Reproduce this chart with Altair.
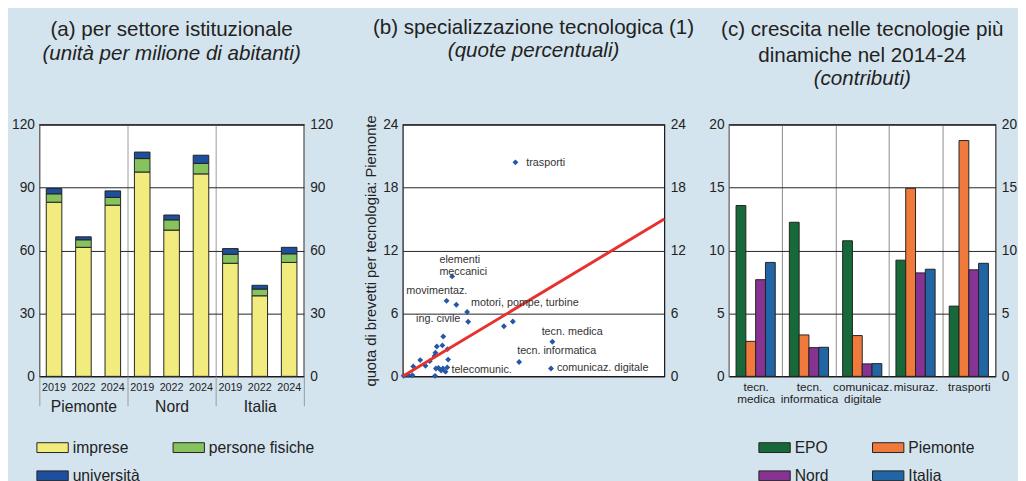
import altair as alt
import pandas as pd

# ---------------- data ----------------
# (a) per settore istituzionale
areas = ["Piemonte", "Nord", "Italia"]
years = ["2019", "2022", "2024"]
sectors = ["imprese", "persone fisiche", "università"]
imprese = [83.0, 61.5, 81.6, 97.4, 69.7, 96.5, 53.9, 38.4, 54.3]
persone_fisiche = [4.0, 3.6, 3.7, 6.4, 4.9, 5.0, 4.3, 3.2, 4.1]
universita = [2.5, 1.4, 3.1, 3.1, 2.3, 3.9, 2.7, 1.8, 3.1]
sector_colors = ["#f2ec7f", "#86c25e", "#1e4f9e"]

# (b) specializzazione tecnologica
tech_epo = [6.46, 2.83, 2.51, 3.07, 3.69, 3.75, 5.80, 6.31, 8.58, 6.67, 8.50,
            2.45, 0.05, 0.30, 0.55, 0.60, 1.30, 1.00, 1.55, 1.85, 1.82, 1.87,
            1.95, 2.27, 2.32, 2.57, 2.60, 1.90, 2.05, 2.30, 2.55, 2.20]
tech_piemonte = [20.4, 9.53, 7.20, 6.82, 6.14, 5.20, 4.77, 5.23, 3.30, 1.37, 0.75,
                 0.45, 0.05, 0.15, 0.10, 0.95, 1.00, 1.55, 1.45, 0.05, 1.95, 2.25,
                 2.85, 2.95, 3.80, 2.60, 1.60, 0.75, 0.80, 0.75, 0.85, 0.55]
tech_labels = ["trasporti", "elementi\nmeccanici", "movimentaz.", "motori, pompe, turbine",
               "", "ing. civile", "", "", "tecn. medica", "tecn. informatica",
               "comunicaz. digitale", "telecomunic."] + [""] * 20
diag_ends = [0, 15]

# (c) crescita nelle tecnologie più dinamiche
cats_c = ["tecn.|medica", "tecn.|informatica", "comunicaz.|digitale", "misuraz.", "trasporti"]
series_c = ["EPO", "Piemonte", "Nord", "Italia"]
epo = [13.57, 12.24, 10.77, 9.23, 5.58]
piemonte = [2.78, 3.29, 3.24, 14.94, 18.73]
nord = [7.68, 2.28, 0.99, 8.22, 8.46]
italia = [9.05, 2.31, 1.01, 8.51, 8.98]
series_colors = ["#17693a", "#ef7a3b", "#873393", "#2265a4"]

# ---------------- style ----------------
FONT = "Liberation Sans"
TXT = "#222222"
H = 257
RECT = "M-1,-0.3125H1V0.3125H-1Z"


def ptitle(text, subtitle, offset):
    return alt.TitleParams(text=text, subtitle=subtitle, fontSize=21, subtitleFontSize=21,
                           subtitleFontStyle="italic", fontWeight="normal", color=TXT,
                           subtitleColor=TXT, anchor="middle", frame="group", offset=offset,
                           lineHeight=26, subtitleLineHeight=26, subtitlePadding=3,
                           font=FONT, subtitleFont=FONT)


def yaxis(values, orient, grid):
    return alt.Axis(values=values, orient=orient, grid=grid, gridColor="#222222",
                    gridWidth=1, ticks=False, domain=False, title=None,
                    labelFontSize=14, labelColor=TXT, labelPadding=5 if orient == "left" else 6)


def legend(x, colpad):
    return alt.Legend(orient="none", legendX=x, legendY=313, direction="horizontal",
                      columns=2, title=None, symbolType=RECT, symbolSize=1024,
                      symbolStrokeColor="#222222", symbolStrokeWidth=1,
                      labelFontSize=16, labelColor=TXT, labelOffset=4,
                      columnPadding=colpad, rowPadding=4, labelFont=FONT)


# ---------------- panel (a) ----------------
rows = []
for i, area in enumerate(areas):
    for j, yr in enumerate(years):
        k = i * 3 + j
        for s_i, vals in enumerate([imprese, persone_fisiche, universita]):
            rows.append(dict(area=area, year=yr, sector=sectors[s_i], value=vals[k], ord=s_i))
df_a = pd.DataFrame(rows)
df_years = pd.DataFrame([(a, y) for a in areas for y in years], columns=["area", "year"])

x_a = alt.X("area:N", sort=areas, scale=alt.Scale(paddingInner=0, paddingOuter=0),
            axis=alt.Axis(title=None, labelFontSize=16, labelColor=TXT, labelAngle=0,
                          tickBand="extent", ticks=True, tickSize=30, tickColor="#9a9a9a",
                          grid=True, gridColor="#9a9a9a", domain=False, labelPadding=-7))
xo_a = alt.XOffset("year:N", sort=years, scale=alt.Scale(paddingInner=0.47, paddingOuter=0.235))

bars_a = alt.Chart(df_a).mark_bar(stroke="#222222", strokeWidth=1).encode(
    x=x_a, xOffset=xo_a,
    y=alt.Y("value:Q", stack="zero", scale=alt.Scale(domain=[0, 120], nice=False),
            axis=yaxis([0, 30, 60, 90, 120], "left", True)),
    color=alt.Color("sector:N", sort=sectors,
                    scale=alt.Scale(domain=sectors, range=sector_colors),
                    legend=legend(-3, 31)),
    order=alt.Order("ord:Q", sort="ascending"),
)
right_a = alt.Chart(df_a).mark_bar(opacity=0).encode(
    x=x_a, xOffset=xo_a,
    y=alt.Y("value:Q", scale=alt.Scale(domain=[0, 120], nice=False),
            axis=alt.Axis(values=[0, 30, 60, 90, 120], orient="right", grid=False, ticks=False,
                          domain=False, title=None, labelFontSize=14, labelColor=TXT,
                          labelPadding=6, minExtent=47)),
)
years_a = alt.Chart(df_years).mark_text(fontSize=11, color=TXT, baseline="middle").encode(
    x=alt.X("area:N", sort=areas), xOffset=xo_a, text="year:N", y=alt.value(H + 12))

panel_a = alt.layer(bars_a, right_a, years_a).resolve_axis(y="independent").properties(
    width=270, height=H, title=ptitle("(a) per settore istituzionale",
                                      "(unità per milione di abitanti)", 55))

# ---------------- panel (b) ----------------
df_b = pd.DataFrame(dict(epo=tech_epo, pie=tech_piemonte, label=tech_labels))
df_diag = pd.DataFrame(dict(epo=diag_ends, pie=diag_ends))

x_b = alt.X("epo:Q", scale=alt.Scale(domain=[0, 15], nice=False),
            axis=alt.Axis(values=[0, 5, 10, 15], title="quota di brevetti per tecnologia: EPO",
                          titleFontSize=15, titleFontWeight="normal", titleColor=TXT,
                          titlePadding=40, labelFontSize=14, labelColor=TXT, labelPadding=15,
                          labelFlush=False, ticks=False, domain=False, grid=True,
                          gridColor="#555555"))
y_b_scale = alt.Scale(domain=[0, 24], nice=False)
x_plain = alt.X("epo:Q", axis=None)
y_plain = alt.Y("pie:Q", scale=y_b_scale, axis=None)

pts = alt.Chart(df_b).mark_point(shape="diamond", filled=True, size=36, opacity=1,
                                 color="#2457a6").encode(
    x=x_b,
    y=alt.Y("pie:Q", scale=y_b_scale,
            axis=alt.Axis(values=[0, 6, 12, 18, 24], orient="left", grid=True, gridColor="#222222",
                          ticks=False, domain=False, labelFontSize=14, labelColor=TXT,
                          labelPadding=5, title="quota di brevetti per tecnologia: Piemonte",
                          titleFontSize=15, titleFontWeight="normal", titleColor=TXT,
                          titlePadding=4)),
)
line_b = alt.Chart(df_diag).mark_line(color="#e8312c", strokeWidth=3).encode(
    x=x_plain, y=y_plain)
right_b = alt.Chart(df_b).mark_point(opacity=0).encode(
    x=x_plain,
    y=alt.Y("pie:Q", scale=y_b_scale,
            axis=alt.Axis(values=[0, 6, 12, 18, 24], orient="right", grid=False, ticks=False,
                          domain=False, title=None, labelFontSize=14, labelColor=TXT,
                          labelPadding=6)),
)


def lab(name, dx, dy, align="left"):
    return alt.Chart(df_b).transform_filter(alt.datum.label == name).mark_text(
        align=align, dx=dx, dy=dy, fontSize=11, color="#333333", baseline="middle",
        lineBreak="\n", lineHeight=12.5).encode(x=x_plain, y=y_plain, text="label:N")


labels_b = [
    lab("trasporti", 11, 1),
    lab("elementi\nmeccanici", -13, -17),
    lab("movimentaz.", -10, -10, "center"),
    lab("motori, pompe, turbine", 15, -2),
    lab("ing. civile", -8, -3, "right"),
    lab("tecn. medica", -11, -10),
    lab("tecn. informatica", -2, -11),
    lab("comunicaz. digitale", 6, 0),
    lab("telecomunic.", 6, -2),
]

panel_b = alt.layer(pts, line_b, right_b, *labels_b).resolve_axis(y="independent").properties(
    width=267, height=H, title=ptitle("(b) specializzazione tecnologica (1)",
                                      "(quote percentuali)", 55))

# ---------------- panel (c) ----------------
rows_c = []
for i, cat in enumerate(cats_c):
    for s_i, vals in enumerate([epo, piemonte, nord, italia]):
        rows_c.append(dict(cat=cat, series=series_c[s_i], value=vals[i]))
df_c = pd.DataFrame(rows_c)

x_c = alt.X("cat:N", sort=cats_c, scale=alt.Scale(paddingInner=0, paddingOuter=0),
            axis=alt.Axis(title=None, labelExpr="split(datum.label, '|')", labelFontSize=12,
                          labelLineHeight=12.5, labelColor=TXT, labelAngle=0, labelPadding=5,
                          ticks=False, tickBand="extent", grid=True, gridColor="#8a8a8a",
                          domain=False))
xo_c = alt.XOffset("series:N", sort=series_c, scale=alt.Scale(paddingInner=0, paddingOuter=0.72))

bars_c = alt.Chart(df_c).mark_bar(stroke="#222222", strokeWidth=1).encode(
    x=x_c, xOffset=xo_c,
    y=alt.Y("value:Q", scale=alt.Scale(domain=[0, 20], nice=False),
            axis=yaxis([0, 5, 10, 15, 20], "left", True)),
    color=alt.Color("series:N", sort=series_c,
                    scale=alt.Scale(domain=series_c, range=series_colors),
                    legend=legend(30, 42)),
)
right_c = alt.Chart(df_c).mark_bar(opacity=0).encode(
    x=x_c, xOffset=xo_c,
    y=alt.Y("value:Q", scale=alt.Scale(domain=[0, 20], nice=False),
            axis=alt.Axis(values=[0, 5, 10, 15, 20], orient="right", grid=False, ticks=False,
                          domain=False, title=None, labelFontSize=14, labelColor=TXT,
                          labelPadding=6)),
)

panel_c = alt.layer(bars_c, right_c).resolve_axis(y="independent").properties(
    width=272, height=H, title=ptitle(["(c) crescita nelle tecnologie più", "dinamiche nel 2014-24"],
                                      "(contributi)", 29))

chart = alt.hconcat(panel_a, panel_b, panel_c, spacing=12).resolve_scale(
    color="independent", x="independent", y="independent", xOffset="independent"
).properties(
    background="#d4e4ee",
    padding={"left": 3, "top": 3, "right": 0, "bottom": 0},
).configure(font=FONT).configure_view(fill="white", stroke="#111111", strokeWidth=1.2)

chart.save("out.html", embed_options={"renderer": "svg", "actions": False})
